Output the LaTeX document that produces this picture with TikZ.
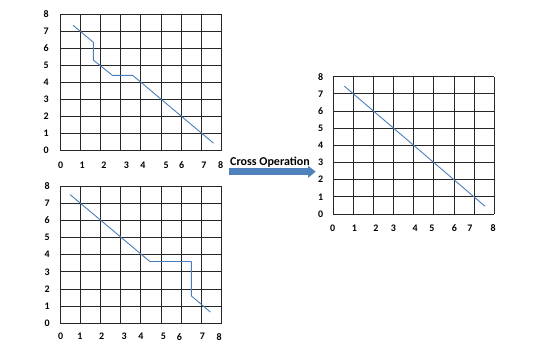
\documentclass[tikz,border=0pt]{standalone}
\usepackage{fontspec}
\newfontfamily\chartfont{Carlito}
\usetikzlibrary{arrows.meta}
\definecolor{series}{RGB}{74,126,187}
\definecolor{blockarrow}{RGB}{79,129,189}
\definecolor{blockedge}{RGB}{56,93,138}

\begin{document}
\begin{tikzpicture}[x=1pt,y=-1pt]

		\tikzset{gridline/.style={draw,black!85,line width=0.8pt,step=1}}
		\tikzset{seriesline/.style={draw,series,line width=0.9pt,line join=round}}
		\tikzset{tick/.style={font=\chartfont\bfseries\fontsize{10}{11}\selectfont,inner sep=0pt}}
		\tikzset{label/.style={font=\chartfont\bfseries\fontsize{12}{13}\selectfont,inner sep=0pt}}
		\tikzset{blockline/.style={blockarrow,line width=6.5pt,-{Triangle[length=7.5pt,width=11.5pt]}}}

		\useasboundingbox (0,0) rectangle (552,354);

		% parent A (top left)
		\begin{scope}[shift={(60,150)},x=20.2pt,y=16.96pt]
			\draw[gridline] (0,0) grid (8,8);
			\foreach \v in {0,...,8}
				\node[tick] (a-y\v) at (-0.69,\v) {\v};
			\foreach \v/\p in {0/0.03,1/1.1,2/2.17,3/3.29,4/4.11,5/5.25,6/6.02,7/7.13,8/7.95}
				\node[tick] (a-x\v) at (\p,-0.88) {\v};
			\path[seriesline] (0.65,7.35) -- (1.65,6.35) -- (1.65,5.3) -- (2.6,4.4) -- (3.6,4.4) -- (7.6,0.4);
		\end{scope}

		% parent B (bottom left)
		\begin{scope}[shift={(60,323.3)},x=20.2pt,y=17.16pt]
			\draw[gridline] (0,0) grid (8,8);
			\foreach \v in {0,...,8}
				\node[tick] (b-y\v) at (-0.63,\v) {\v};
			\foreach \v/\p in {0/0.03,1/0.99,2/2.06,3/3.18,4/4.01,5/5.12,6/5.91,7/7.05,8/7.88}
				\node[tick] (b-x\v) at (\p,-0.78) {\v};
			\path[seriesline] (0.5,7.5) -- (4.45,3.6) -- (6.5,3.6) -- (6.5,1.6) -- (7.45,0.65);
		\end{scope}

		% child (right)
		\begin{scope}[shift={(333.3,214)},x=20.1pt,y=17.16pt]
			\draw[gridline] (0,0) grid (8,8);
			\foreach \v in {0,...,8}
				\node[tick] (c-y\v) at (-0.63,\v) {\v};
			\foreach \v/\p in {0/-0.03,1/1.05,2/2.12,3/2.99,4/4.07,5/4.9,6/6.02,7/6.8,8/7.95}
				\node[tick] (c-x\v) at (\p,-0.82) {\v};
			\path[seriesline] (0.55,7.45) -- (7.55,0.45);
		\end{scope}

		% cross operation arrow
		\coordinate (arrow-start) at (229,171.7);
		\coordinate (arrow-end) at (315.7,171.7);
		\draw[blockline] (arrow-start) -- (arrow-end);
		\node[label,anchor=base] (op) at (270,165) {Cross Operation};

	\end{tikzpicture}
\end{document}
